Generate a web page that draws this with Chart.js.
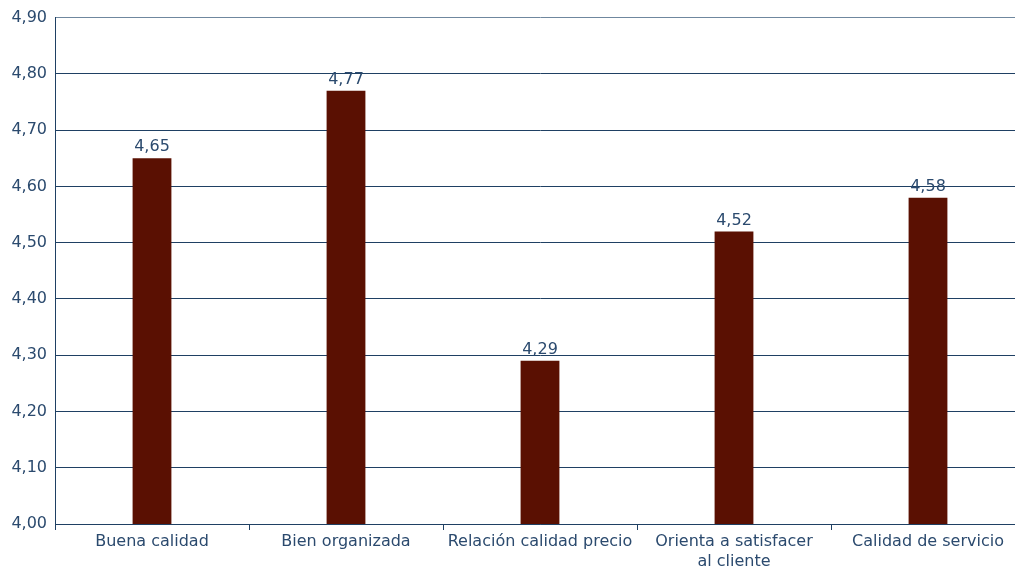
<!DOCTYPE html>
<html>
<head>
<meta charset="utf-8">
<script src="https://cdn.jsdelivr.net/npm/chart.js@4"></script>
<style>
  html, body { margin: 0; padding: 0; background: #fff; overflow: hidden; }
  #wrap { width: 1025px; height: 568px; }
</style>
</head>
<body>
<div id="wrap"><canvas id="chart" width="1025" height="568"></canvas></div>
<script>
const categories = ['Buena calidad', 'Bien organizada', 'Relación calidad precio', ['Orienta a satisfacer', 'al cliente'], 'Calidad de servicio'];
const scores = [4.65, 4.77, 4.29, 4.52, 4.58];
const yMin = 4.0, yMax = 4.9, yStep = 0.1;

const navy = '#1f4063';
const textColor = '#2b4a6e';

function fmt(v) {
    return v.toFixed(2).replace('.', ',');
}

// values written above each bar
const barLabels = {
    id: 'barLabels',
    afterDatasetsDraw(chart) {
        const ctx = chart.ctx;
        const meta = chart.getDatasetMeta(0);
        ctx.save();
        ctx.font = '16px "DejaVu Sans"';
        ctx.fillStyle = textColor;
        ctx.textAlign = 'center';
        ctx.textBaseline = 'bottom';
        meta.data.forEach(function(bar, i) {
            ctx.fillText(fmt(scores[i]), bar.x, bar.y - 3);
        });
        ctx.restore();
    }
};

new Chart(document.getElementById('chart').getContext('2d'), {
    type: 'bar',
    data: {
        labels: categories,
        datasets: [{
            data: scores,
            backgroundColor: '#5a1002',
            barPercentage: 0.2,
            categoryPercentage: 1.0
        }]
    },
    options: {
        responsive: false,
        animation: false,
        layout: { padding: { top: 13, right: 0, left: 0, bottom: 0 } },
        plugins: {
            legend: { display: false },
            tooltip: { enabled: false }
        },
        scales: {
            x: {
                afterFit: function(s) { s.height = 44; },
                grid: {
                    offset: true,
                    drawOnChartArea: false,
                    drawTicks: true,
                    tickLength: 6,
                    color: navy
                },
                border: { color: navy, width: 1 },
                ticks: {
                    color: textColor,
                    font: { family: '"DejaVu Sans"', size: 16, lineHeight: 1.25 },
                    padding: 2,
                    maxRotation: 0,
                    autoSkip: false
                }
            },
            y: {
                min: yMin,
                max: yMax,
                afterFit: function(s) { s.width = 55; },
                grid: {
                    drawTicks: false,
                    color: function(c) { return c.tick.value >= yMax - 1e-9 ? '#6f879e' : navy; },
                    lineWidth: 1
                },
                border: { color: navy, width: 1 },
                ticks: {
                    stepSize: yStep,
                    color: textColor,
                    font: { family: '"DejaVu Sans"', size: 16 },
                    padding: 8,
                    callback: function(v) { return fmt(v); }
                }
            }
        }
    },
    plugins: [barLabels]
});
</script>
</body>
</html>
